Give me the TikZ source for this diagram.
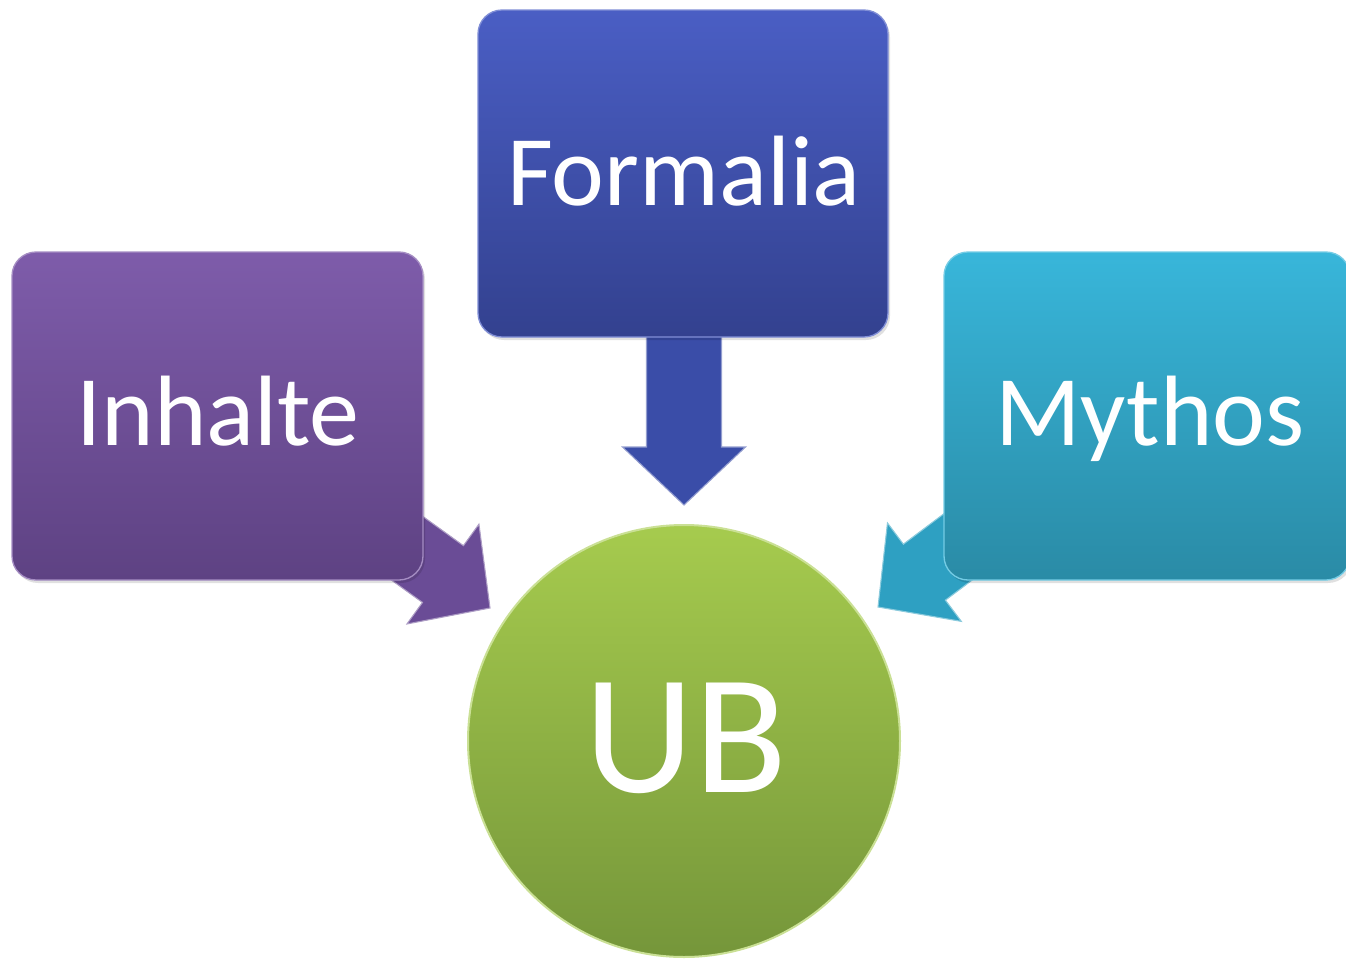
\documentclass[tikz,border=0pt]{standalone}
\usepackage{fontspec}
\setmainfont{Carlito}
\usetikzlibrary{calc}
\definecolor{inTop}{HTML}{7E5CAA}
\definecolor{inBot}{HTML}{5E4283}
\definecolor{inArr}{HTML}{6A4C96}
\definecolor{foTop}{HTML}{4A5EC4}
\definecolor{foBot}{HTML}{33418F}
\definecolor{foArr}{HTML}{3A4DA8}
\definecolor{myTop}{HTML}{38B6DA}
\definecolor{myBot}{HTML}{2A8BA6}
\definecolor{myArr}{HTML}{2EA0C2}
\definecolor{ubTop}{HTML}{A6CB4E}
\definecolor{ubBot}{HTML}{75963A}
\begin{document}
\begin{tikzpicture}[x=0.75pt,y=-0.75pt]
\tikzset{
  boxshape/.style 2 args={rectangle, rounded corners=18pt, top color=#1, bottom color=#2,
    draw=#1!70!white, line width=1pt, inner sep=0pt},
  shadowbox/.style={rectangle, rounded corners=18pt, fill=black, opacity=0.12, inner sep=0pt},
  arrowfill/.style={fill=#1, draw=#1!55!white, line width=0.8pt, line join=miter},
  boxlabel/.style={text=white, font=\fontsize{75}{80}\selectfont, anchor=base, inner sep=0pt},
}
\useasboundingbox (0,0) rectangle (1346,960);
% arrows (behind boxes)
\begin{scope}[shift={(684,505)}, rotate=-90]
  \path[arrowfill=foArr] (0,0) -- (-58,61.5) -- (-58,37.5) -- (-230,37.5) -- (-230,-37.5) -- (-58,-37.5) -- (-58,-61.5) -- cycle;
\end{scope}
\begin{scope}[shift={(490,608)}, rotate=-35.8]
  \path[arrowfill=inArr] (0,0) -- (-58,61.5) -- (-58,35) -- (-230,35) -- (-230,-35) -- (-58,-35) -- (-58,-61.5) -- cycle;
\end{scope}
\begin{scope}[shift={(878,607)}, rotate=-143.1]
  \path[arrowfill=myArr] (0,0) -- (-58,61.5) -- (-58,35) -- (-230,35) -- (-230,-35) -- (-58,-35) -- (-58,-61.5) -- cycle;
\end{scope}
% soft shadows
\node[shadowbox, minimum width=308.25pt, minimum height=246pt] (inhalteShadow) at (219.5,419) {};
\node[shadowbox, minimum width=307.5pt, minimum height=245.25pt] (formaliaShadow) at (685,176.5) {};
\node[shadowbox, minimum width=304.5pt, minimum height=246pt] (mythosShadow) at (1149,419) {};
% boxes
\node[boxshape={inTop}{inBot}, minimum width=308.25pt, minimum height=246pt] (inhalte) at (217.5,416) {};
\node[boxshape={foTop}{foBot}, minimum width=307.5pt, minimum height=245.25pt] (formalia) at (683,173.5) {};
\node[boxshape={myTop}{myBot}, minimum width=304.5pt, minimum height=246pt] (mythos) at (1147,416) {};
\node[circle, top color=ubTop, bottom color=ubBot, draw=ubTop!60!white, line width=1.5pt,
  minimum size=324pt, inner sep=0pt] (ub) at (684,741) {};
% labels
\node[boxlabel] (tInhalte) at (218,445) {Inhalte};
\node[boxlabel] (tFormalia) at (684,205) {Formalia};
\node[boxlabel] (tMythos) at (1150,445) {Mythos};
\node[boxlabel, font=\fontsize{128}{140}\selectfont] (tUB) at (686,792) {UB};
\end{tikzpicture}
\end{document}
